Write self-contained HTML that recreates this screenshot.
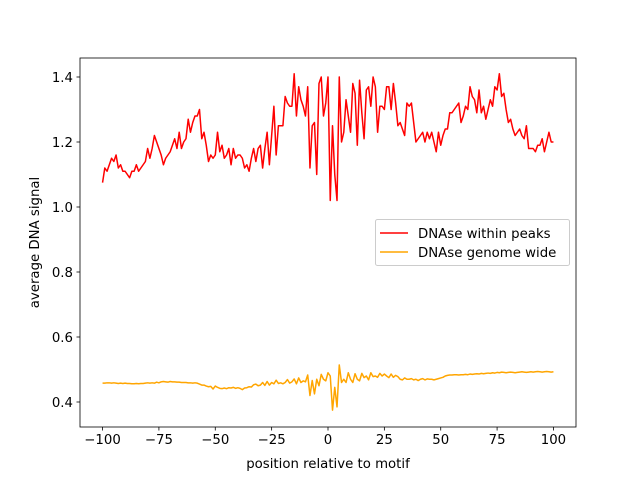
<!DOCTYPE html>
<html><head><meta charset="utf-8"><style>
body{margin:0;background:#fff}
svg{display:block;font-family:"DejaVu Sans","Liberation Sans",sans-serif}
</style></head><body>
<svg id="chart" width="640" height="480" viewBox="0 0 640 480" xmlns="http://www.w3.org/2000/svg">
<rect width="640" height="480" fill="#fff"/>
<g id="plot"></g>
</svg>
<script>
const xTicks=[-100,-75,-50,-25,0,25,50,75,100];
const yTicks=[0.4,0.6,0.8,1.0,1.2,1.4];
const yTickLabels=["0.4","0.6","0.8","1.0","1.2","1.4"];
const seriesNames=["DNAse within peaks","DNAse genome wide"];
const peaksSignal=[
1.075,1.12,1.11,1.13,1.15,1.14,1.16,1.12,1.13,1.11,
1.11,1.10,1.09,1.11,1.11,1.13,1.11,1.12,1.13,1.14,
1.18,1.15,1.18,1.22,1.20,1.18,1.16,1.13,1.15,1.16,
1.17,1.19,1.21,1.18,1.23,1.18,1.20,1.21,1.27,1.23,
1.26,1.28,1.28,1.30,1.21,1.23,1.19,1.14,1.16,1.15,
1.16,1.23,1.17,1.19,1.15,1.16,1.18,1.13,1.18,1.15,
1.16,1.16,1.15,1.12,1.13,1.11,1.15,1.18,1.14,1.18,
1.19,1.12,1.18,1.23,1.13,1.22,1.31,1.16,1.25,1.25,
1.25,1.34,1.32,1.31,1.31,1.41,1.28,1.37,1.33,1.31,
1.28,1.37,1.12,1.25,1.26,1.10,1.38,1.40,1.28,1.32,
1.40,1.02,1.25,1.10,1.02,1.40,1.20,1.23,1.33,1.28,
1.23,1.38,1.35,1.19,1.39,1.29,1.21,1.36,1.37,1.31,
1.40,1.37,1.23,1.31,1.31,1.30,1.37,1.37,1.30,1.38,
1.32,1.25,1.26,1.24,1.22,1.32,1.31,1.32,1.26,1.20,
1.21,1.22,1.23,1.20,1.23,1.21,1.23,1.20,1.17,1.23,
1.19,1.22,1.24,1.24,1.29,1.29,1.30,1.31,1.32,1.26,
1.28,1.31,1.30,1.37,1.34,1.33,1.29,1.36,1.29,1.31,
1.27,1.30,1.33,1.31,1.37,1.36,1.41,1.34,1.35,1.30,
1.26,1.27,1.24,1.22,1.23,1.24,1.22,1.21,1.25,1.18,
1.18,1.18,1.17,1.19,1.19,1.21,1.17,1.20,1.23,1.20,
1.20];
const genomeSignal=[
0.458,0.458,0.459,0.459,0.458,0.459,0.458,0.457,0.458,0.457,
0.458,0.457,0.457,0.456,0.456,0.457,0.456,0.457,0.457,0.458,
0.459,0.458,0.459,0.458,0.461,0.459,
0.462,0.463,0.462,0.461,0.463,0.462,0.462,0.461,0.461,0.460,
0.460,0.460,0.459,0.459,0.458,0.459,0.458,0.455,0.452,0.452,
0.449,0.447,0.448,0.440,0.449,
0.445,0.442,0.441,0.443,0.441,0.444,0.443,0.445,0.442,0.444,
0.442,0.438,0.443,0.444,0.447,0.446,0.453,0.455,0.450,0.452,
0.460,0.451,0.463,0.452,0.460,
0.456,0.467,0.457,0.459,0.456,0.460,0.469,0.458,0.462,0.471,
0.456,0.474,0.460,0.465,0.462,
0.483,0.420,0.466,0.425,0.470,0.450,0.485,0.470,0.465,0.490,
0.480,0.375,0.445,0.385,0.514,0.460,0.470,0.460,0.490,0.470,
0.460,0.487,0.470,0.465,0.488,0.475,0.480,0.468,0.490,0.478,
0.480,0.476,0.488,0.480,0.486,0.480,0.475,0.486,0.476,0.482,
0.478,0.470,0.468,0.474,0.470,0.470,0.472,0.468,0.470,0.466,
0.470,0.472,0.468,0.471,0.470,0.470,0.468,0.470,0.472,0.474,
0.476,0.480,0.482,0.483,0.483,0.484,0.484,0.483,0.484,0.484,
0.485,0.484,0.486,0.485,0.486,0.487,0.486,0.488,0.487,0.488,
0.489,0.488,0.490,0.489,0.491,0.490,0.492,0.491,0.490,0.491,
0.492,0.491,0.490,0.491,0.492,0.493,0.492,0.491,0.492,0.493,
0.492,0.493,0.494,0.493,0.492,0.493,0.494,0.493,0.492,0.493];

const L=80,T=58,W=496,H=369;
const xMin=-110,xMax=110,yMin=0.33,yMax=1.4+0.0585;
const sx=v=>L+(v-xMin)/(xMax-xMin)*W;
const yA=1.4,yPix=77,yScale=325;
const sy=v=>yPix+(yA-v)*yScale;
const NS="http://www.w3.org/2000/svg";
const g=document.getElementById('plot');
function mk(tag,attrs,parent){const e=document.createElementNS(NS,tag);for(const k in attrs)e.setAttribute(k,attrs[k]);(parent||g).appendChild(e);return e;}

function line(data,color,name){
  const pts=data.map((v,i)=>sx(i-100).toFixed(2)+','+sy(v).toFixed(2)).join(' ');
  const p=mk('polyline',{points:pts,fill:'none',stroke:color,'stroke-width':1.5,'stroke-linejoin':'round'});
  
  
}
line(peaksSignal,'#ff0000','series-dnase-within-peaks');
line(genomeSignal,'#ffa500','series-dnase-genome-wide');

const frame=mk('rect',{x:L,y:T,width:W,height:H,fill:'none',stroke:'#000','stroke-width':0.8});



xTicks.forEach(t=>{
  const x=sx(t);
  const tk=mk('line',{x1:x,x2:x,y1:T+H,y2:T+H+3.5,stroke:'#000','stroke-width':0.8});
  
  
  const lb=mk('text',{x:x,y:T+H+17,'text-anchor':'middle','font-size':'13.3px',fill:'#000'});
  lb.textContent=(t<0?'\u2212'+(-t):t);
  
  
});
yTicks.forEach((t,i)=>{
  const y=sy(t);
  const tk=mk('line',{x1:L-3.5,x2:L,y1:y,y2:y,stroke:'#000','stroke-width':0.8});
  
  
  const lb=mk('text',{x:L-7,y:y+5,'text-anchor':'end','font-size':'13.3px',fill:'#000'});
  lb.textContent=yTickLabels[i];
  
  
});
const xt=mk('text',{x:L+W/2,y:468,'text-anchor':'middle','font-size':'13.3px'});
xt.textContent='position relative to motif';


const yt=mk('text',{x:0,y:0,'text-anchor':'middle','font-size':'13.3px',transform:'translate(39,'+(T+H/2)+') rotate(-90)'});
yt.textContent='average DNA signal';



const leg=mk('g',{});


mk('rect',{x:375.5,y:219.5,width:194,height:46,rx:2,fill:'#fff','fill-opacity':0.8,stroke:'#ccc','stroke-width':1},leg);
const colors=['#ff0000','#ffa500'];
seriesNames.forEach((n,i)=>{
  const y=233+i*19;
  const e=mk('g',{},leg);
  
  
  mk('line',{x1:380,x2:408,y1:y,y2:y,stroke:colors[i],'stroke-width':1.5},e);
  const tx=mk('text',{x:418,y:y+5,'font-size':'13.3px'},e);
  tx.textContent=n;
});
</script>
</body></html>
